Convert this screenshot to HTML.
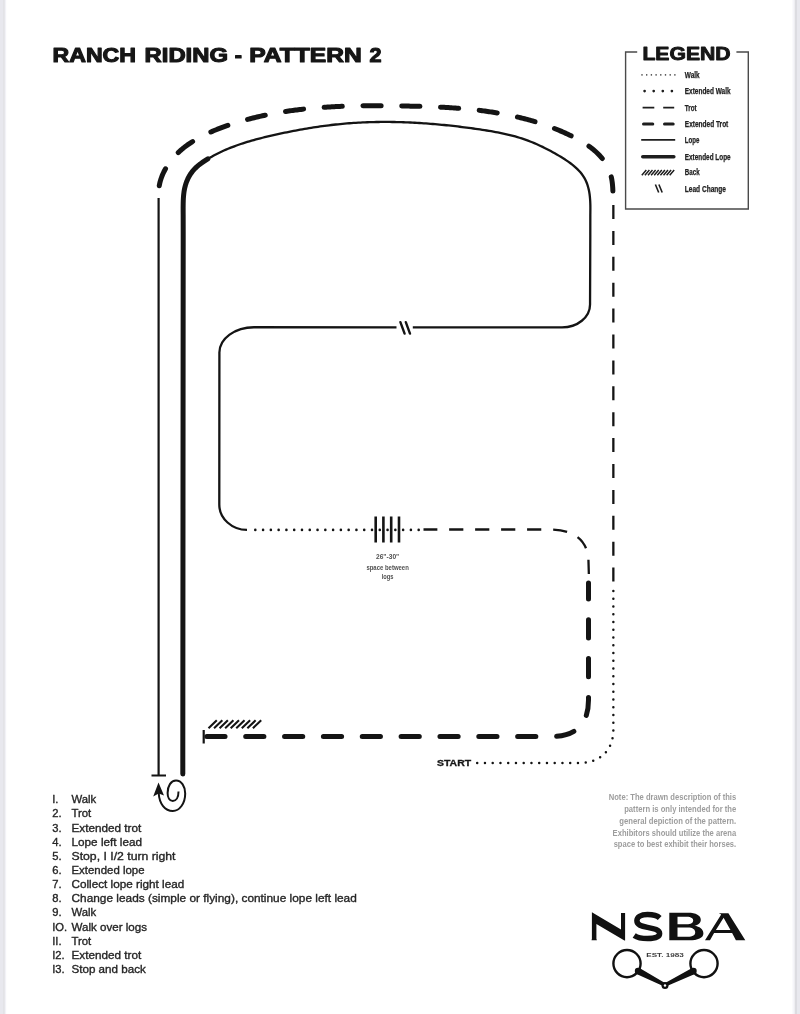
<!DOCTYPE html>
<html><head><meta charset="utf-8">
<style>
html,body{margin:0;padding:0;background:#fff;}
body{width:800px;height:1014px;position:relative;overflow:hidden;font-family:"Liberation Sans",sans-serif;}
</style></head><body>
<svg width="800" height="1014" style="position:absolute;left:0;top:0">
<rect x="0" y="0" width="3.2" height="1014" fill="#e8e8ee"/>
<rect x="3.2" y="0" width="1.6" height="1014" fill="#dcdce1"/>
<rect x="4.8" y="0" width="1.4" height="1014" fill="#f2f2f7"/>
<rect x="792.5" y="0" width="2" height="1014" fill="#f5f5fa"/>
<rect x="794.6" y="0" width="2.4" height="1014" fill="#dcdce1"/>
<rect x="797" y="0" width="3" height="1014" fill="#e8e8ee"/>
</svg>
<svg width="800" height="1014" viewBox="0 0 800 1014" style="position:absolute;left:0;top:0;filter:grayscale(1)">
<g fill="none" stroke="#141414">
<path id="outer" d="M612.88,191.04 L612.82,189.63 L612.75,188.22 L612.66,186.82 L612.55,185.43 L612.42,184.04 L612.26,182.66 L612.07,181.28 L611.86,179.92 L611.62,178.56 L611.34,177.22 L611.03,175.88 L610.69,174.56 L610.31,173.25 L609.89,171.95 L609.42,170.66 L608.92,169.39 L608.37,168.14 L607.78,166.90 L607.14,165.67 L606.45,164.47 L605.73,163.28 L604.96,162.11 L604.16,160.95 L603.32,159.82 L602.45,158.71 L601.55,157.61 L600.62,156.54 L599.66,155.49 L598.67,154.46 L597.67,153.45 L596.64,152.46 L595.59,151.50 L594.52,150.56 L593.43,149.64 L592.33,148.75 L591.21,147.87 L590.08,147.02 L588.93,146.18 L587.77,145.36 L586.60,144.57 L585.41,143.79 L584.21,143.02 L583.00,142.27 L581.78,141.54 L580.56,140.82 L579.32,140.12 L578.08,139.43 L576.83,138.75 L575.57,138.09 L574.31,137.43 L573.05,136.79 L571.78,136.15 L570.51,135.53 L569.23,134.91 L567.96,134.30 L566.68,133.70 L565.40,133.11 L564.11,132.53 L562.83,131.96 L561.54,131.39 L560.25,130.84 L558.95,130.29 L557.66,129.75 L556.36,129.22 L555.06,128.69 L553.76,128.18 L552.45,127.67 L551.14,127.17 L549.83,126.68 L548.52,126.19 L547.21,125.72 L545.89,125.25 L544.57,124.79 L543.25,124.34 L541.93,123.89 L540.61,123.45 L539.28,123.02 L537.95,122.60 L536.62,122.18 L535.29,121.77 L533.96,121.37 L532.62,120.97 L531.29,120.59 L529.95,120.21 L528.60,119.83 L527.26,119.46 L525.92,119.10 L524.57,118.75 L523.22,118.40 L521.87,118.06 L520.52,117.72 L519.17,117.40 L517.81,117.07 L516.45,116.76 L515.10,116.45 L513.74,116.15 L512.37,115.85 L511.01,115.56 L509.65,115.27 L508.28,114.99 L506.91,114.72 L505.54,114.45 L504.17,114.19 L502.80,113.93 L501.43,113.68 L500.06,113.43 L498.68,113.19 L497.30,112.96 L495.92,112.73 L494.54,112.50 L493.16,112.29 L491.78,112.07 L490.40,111.86 L489.01,111.66 L487.63,111.46 L486.24,111.26 L484.85,111.07 L483.46,110.89 L482.07,110.71 L480.68,110.53 L479.29,110.36 L477.90,110.20 L476.50,110.03 L475.11,109.87 L473.71,109.72 L472.32,109.57 L470.92,109.43 L469.52,109.28 L468.12,109.15 L466.72,109.01 L465.32,108.88 L463.92,108.76 L462.52,108.63 L461.11,108.52 L459.71,108.40 L458.31,108.29 L456.90,108.18 L455.49,108.08 L454.09,107.98 L452.68,107.88 L451.27,107.78 L449.87,107.69 L448.46,107.60 L447.05,107.52 L445.64,107.44 L444.23,107.36 L442.82,107.28 L441.41,107.21 L440.00,107.13 L438.58,107.07 L437.17,107.00 L435.76,106.94 L434.35,106.87 L432.94,106.82 L431.52,106.76 L430.11,106.70 L428.70,106.65 L427.28,106.60 L425.87,106.55 L424.46,106.51 L423.04,106.46 L421.63,106.42 L420.21,106.38 L418.80,106.34 L417.39,106.31 L415.97,106.27 L414.56,106.24 L413.14,106.20 L411.73,106.17 L410.32,106.14 L408.90,106.12 L407.49,106.09 L406.07,106.06 L404.66,106.04 L403.25,106.01 L401.84,105.99 L400.42,105.97 L399.01,105.95 L397.60,105.93 L396.19,105.91 L394.78,105.89 L393.37,105.87 L391.95,105.85 L390.54,105.84 L389.13,105.82 L387.72,105.81 L386.32,105.80 L384.91,105.79 L383.50,105.78 L382.09,105.77 L380.68,105.77 L379.27,105.76 L377.87,105.76 L376.46,105.75 L375.05,105.75 L373.64,105.76 L372.24,105.76 L370.83,105.76 L369.43,105.77 L368.02,105.78 L366.62,105.79 L365.21,105.80 L363.81,105.82 L362.40,105.83 L361.00,105.85 L359.60,105.87 L358.20,105.90 L356.79,105.92 L355.39,105.95 L353.99,105.98 L352.59,106.02 L351.19,106.05 L349.79,106.09 L348.39,106.13 L346.99,106.17 L345.59,106.22 L344.19,106.27 L342.79,106.32 L341.39,106.37 L340.00,106.43 L338.60,106.49 L337.20,106.55 L335.80,106.62 L334.41,106.69 L333.01,106.76 L331.62,106.83 L330.22,106.91 L328.83,107.00 L327.43,107.08 L326.04,107.17 L324.65,107.26 L323.26,107.36 L321.86,107.46 L320.47,107.56 L319.08,107.67 L317.69,107.78 L316.30,107.89 L314.91,108.01 L313.52,108.13 L312.13,108.25 L310.74,108.38 L309.35,108.52 L307.97,108.65 L306.58,108.80 L305.19,108.94 L303.81,109.09 L302.42,109.25 L301.03,109.40 L299.65,109.57 L298.26,109.73 L296.88,109.90 L295.50,110.08 L294.11,110.26 L292.73,110.45 L291.35,110.64 L289.97,110.83 L288.59,111.03 L287.21,111.23 L285.83,111.44 L284.45,111.66 L283.07,111.88 L281.69,112.10 L280.31,112.33 L278.94,112.56 L277.56,112.80 L276.18,113.04 L274.81,113.29 L273.43,113.55 L272.06,113.81 L270.68,114.07 L269.31,114.35 L267.94,114.62 L266.56,114.90 L265.19,115.19 L263.82,115.48 L262.45,115.78 L261.08,116.09 L259.71,116.40 L258.34,116.71 L256.97,117.04 L255.60,117.36 L254.24,117.70 L252.87,118.04 L251.50,118.39 L250.14,118.74 L248.77,119.10 L247.41,119.46 L246.04,119.83 L244.68,120.21 L243.32,120.59 L241.95,120.98 L240.59,121.38 L239.23,121.78 L237.87,122.19 L236.51,122.61 L235.15,123.03 L233.79,123.46 L232.43,123.90 L231.08,124.34 L229.72,124.79 L228.36,125.25 L227.01,125.72 L225.65,126.19 L224.30,126.67 L222.95,127.15 L221.60,127.65 L220.26,128.15 L218.91,128.67 L217.58,129.19 L216.24,129.72 L214.91,130.25 L213.59,130.80 L212.26,131.36 L210.95,131.93 L209.64,132.51 L208.34,133.09 L207.04,133.69 L205.75,134.30 L204.47,134.92 L203.20,135.55 L201.94,136.20 L200.68,136.85 L199.43,137.52 L198.20,138.20 L196.97,138.89 L195.75,139.59 L194.55,140.31 L193.35,141.04 L192.17,141.79 L191.00,142.54 L189.84,143.31 L188.69,144.10 L187.56,144.90 L186.44,145.71 L185.34,146.54 L184.25,147.39 L183.17,148.25 L182.11,149.12 L181.07,150.01 L180.04,150.92 L179.03,151.84 L178.03,152.78 L177.05,153.73 L176.09,154.71 L175.15,155.70 L174.22,156.70 L173.32,157.73 L172.43,158.77 L171.56,159.83 L170.72,160.91 L169.89,162.01 L169.09,163.13 L168.30,164.26 L167.54,165.41 L166.80,166.59 L166.08,167.78 L165.39,169.00 L164.72,170.23 L164.07,171.48 L163.46,172.74 L162.87,174.02 L162.32,175.32 L161.80,176.63 L161.31,177.96 L160.86,179.29 L160.45,180.64 L160.07,182.00 L159.74,183.37 L159.45,184.75 L159.20,186.14 L158.99,187.54 L158.82,188.94 L158.69,190.34 L158.59,191.75 L158.52,193.16 L158.48,194.58 L158.46,195.99 L158.46,197.40 L158.48,198.81 L158.52,200.21 L158.57,201.61 L158.62,203.00" stroke-width="5" stroke-linecap="round" stroke-dasharray="18.20 20.62" stroke-dashoffset="3.87"/>
<path d="M205.85,160.14 L207.79,158.94 L209.76,157.78 L211.74,156.65 L213.73,155.55 L215.74,154.49 L217.76,153.47 L219.79,152.47 L221.84,151.50 L223.89,150.57 L225.97,149.66 L228.05,148.78 L230.14,147.93 L232.24,147.10 L234.36,146.30 L236.48,145.52 L238.61,144.76 L240.75,144.03 L242.90,143.32 L245.05,142.63 L247.22,141.96 L249.38,141.31 L251.56,140.68 L253.74,140.06 L255.93,139.46 L258.12,138.87 L260.31,138.30 L262.51,137.74 L264.71,137.20 L266.92,136.67 L269.12,136.14 L271.33,135.63 L273.54,135.13 L275.75,134.63 L277.97,134.14 L280.18,133.66 L282.39,133.18 L284.61,132.72 L286.82,132.26 L289.03,131.81 L291.25,131.37 L293.47,130.94 L295.68,130.51 L297.90,130.10 L300.12,129.69 L302.34,129.29 L304.56,128.90 L306.79,128.52 L309.01,128.15 L311.23,127.79 L313.46,127.44 L315.69,127.10 L317.91,126.77 L320.14,126.45 L322.37,126.14 L324.60,125.84 L326.84,125.55 L329.07,125.27 L331.30,125.00 L333.54,124.75 L335.78,124.50 L338.02,124.27 L340.26,124.05 L342.50,123.83 L344.74,123.63 L346.99,123.45 L349.24,123.27 L351.48,123.11 L353.73,122.95 L355.98,122.81 L358.23,122.68 L360.49,122.56 L362.74,122.45 L365.00,122.35 L367.25,122.26 L369.51,122.19 L371.77,122.12 L374.02,122.07 L376.28,122.02 L378.54,121.99 L380.80,121.96 L383.06,121.95 L385.32,121.94 L387.59,121.95 L389.85,121.96 L392.11,121.99 L394.37,122.02 L396.64,122.06 L398.90,122.12 L401.16,122.18 L403.43,122.25 L405.69,122.33 L407.95,122.42 L410.22,122.52 L412.48,122.63 L414.74,122.75 L417.00,122.87 L419.27,123.00 L421.53,123.15 L423.79,123.30 L426.05,123.45 L428.31,123.62 L430.57,123.80 L432.83,123.98 L435.09,124.17 L437.35,124.37 L439.60,124.57 L441.86,124.79 L444.11,125.01 L446.37,125.24 L448.62,125.47 L450.87,125.71 L453.12,125.96 L455.37,126.22 L457.62,126.48 L459.87,126.75 L462.11,127.03 L464.36,127.31 L466.60,127.60 L468.84,127.90 L471.08,128.20 L473.32,128.51 L475.56,128.83 L477.79,129.15 L480.02,129.48 L482.25,129.81 L484.48,130.15 L486.71,130.50 L488.93,130.86 L491.15,131.23 L493.36,131.61 L495.58,132.01 L497.78,132.42 L499.99,132.85 L502.18,133.30 L504.38,133.77 L506.56,134.26 L508.74,134.78 L510.91,135.32 L513.08,135.88 L515.24,136.48 L517.39,137.10 L519.53,137.75 L521.67,138.43 L523.80,139.14 L525.91,139.89 L528.02,140.66 L530.13,141.47 L532.22,142.30 L534.31,143.17 L536.38,144.06 L538.46,144.98 L540.52,145.93 L542.58,146.91 L544.62,147.91 L546.67,148.94 L548.70,149.99 L550.73,151.07 L552.75,152.18 L554.76,153.31 L556.77,154.46 L558.77,155.63 L560.77,156.83 L562.75,158.06 L564.72,159.31 L566.66,160.59 L568.58,161.90 L570.45,163.25 L572.27,164.64 L574.04,166.07 L575.74,167.56 L577.37,169.09 L578.93,170.67 L580.40,172.31 L581.77,174.01 L583.04,175.77 L584.20,177.60 L585.24,179.50 L586.16,181.47 L586.98,183.49 L587.69,185.57 L588.29,187.70 L588.81,189.86 L589.24,192.06 L589.59,194.28 L589.86,196.53 L590.06,198.78 L590.21,201.05 L590.30,203.32 L590.36,205.59 L590.38,207.87 L590.37,210.15 L590.35,212.42 L590.32,214.69 L590.30,235.00 L590.05,304.5 C590.05,317.3 577.5,327.4 562,327.4 L412.8,327.3" stroke-width="2.3"/>
<path d="M396.5,327.3 L254,327.25 C235,327.25 219.4,338.6 219.4,352.6 L219.3,504.75 C219.3,518.6 232,529.9 247,529.9" stroke-width="2.3"/>
<path d="M182.8,774 L183.20,235.00 L183.17,214.69 L183.15,212.43 L183.14,210.16 L183.14,207.89 L183.16,205.61 L183.19,203.32 L183.25,201.03 L183.35,198.74 L183.50,196.46 L183.71,194.20 L183.99,191.95 L184.36,189.73 L184.82,187.53 L185.39,185.38 L186.05,183.26 L186.81,181.19 L187.68,179.17 L188.65,177.20 L189.72,175.30 L190.91,173.46 L192.20,171.69 L193.60,170.00 L195.11,168.39 L196.72,166.85 L198.42,165.39 L200.19,164.00 L202.03,162.66 L203.92,161.38 L205.85,160.14 L207.79,158.94" stroke-width="5" stroke-linecap="round" stroke-linejoin="round"/>
<path d="M400.4,322.2 L404.6,333.6 M405.8,322.2 L410,333.6" stroke-width="2.4" stroke-linecap="round"/>
<path d="M255.3,529.9 L419,529.9" stroke-width="2.6" stroke-linecap="round" stroke-dasharray="0 7.78"/>
<path d="M375.7,516.5 V542.5 M383.4,516.5 V542.5 M391.2,516.5 V542.5 M399,516.5 V542.5" stroke-width="2.6"/>
<path id="trot1" d="M423.5,529.5 L550,529.5 C575,529.5 588.3,541 588.5,562 L588.9,576" stroke-width="2.3" stroke-dasharray="14.2 11.78" stroke-dashoffset="0.34"/>
<path id="xt2" d="M206,736.5 L552,736.5 C576,736.5 588.5,724 588.5,700 L588.5,582.9" stroke-width="5" stroke-linecap="round" stroke-dasharray="18.2 20.65" stroke-dashoffset="38.0"/>
<path d="M613.35,205 L613.35,582" stroke-width="2.3" stroke-dasharray="14 11.9"/>
<path id="startdots" d="M477.2,763 L580,763 C600,763 613.35,750 613.35,730 L613.35,590" stroke-width="2.5" stroke-linecap="round" stroke-dasharray="0 7.75"/>
<path d="M158.6,198 L158.6,775.5 M151.5,775.5 L166,775.5" stroke-width="2.2"/>
<path d="M203.7,730 L203.7,743.5" stroke-width="2.2"/>
<path d="M208.50,728.2 L216.80,720.3 M214.05,728.2 L222.35,720.3 M219.60,728.2 L227.90,720.3 M225.15,728.2 L233.45,720.3 M230.70,728.2 L239.00,720.3 M236.25,728.2 L244.55,720.3 M241.80,728.2 L250.10,720.3 M247.35,728.2 L255.65,720.3 M252.90,728.2 L261.20,720.3" stroke-width="2.1"/>
<path d="M178.5,791.5 C178.5,797.5 176,801 172.8,801 C169.6,801 167.6,797.6 167.6,793 C167.6,786 171,780.6 176,780.6 C181.5,780.6 185.2,786.5 185.2,793.5 C185.2,803.5 179.5,811 172.8,811 C165,811 159.3,804 158.7,793" stroke-width="2"/>
</g>
<path d="M158.5,782.5 L153.2,796.5 L158.7,793.5 L164,795.5 Z" fill="#141414"/>
<path d="M637.2,52 L625.6,52 L625.6,209 L748.3,209 L748.3,52 L736.4,52" fill="none" stroke="#4a4a4a" stroke-width="1.4"/>
<text x="642.4" y="59.7" font-family="Liberation Sans" font-weight="bold" font-size="18" textLength="88.2" lengthAdjust="spacingAndGlyphs" fill="#161616" stroke="#161616" stroke-width="0.9" stroke-linejoin="round">LEGEND</text>
<g fill="none" stroke="#1e1e1e">
<path d="M642,74.9 L675.5,74.9" stroke-width="1.6" stroke-linecap="round" stroke-dasharray="0 4.7" stroke="#4a4a4a"/>
<path d="M644.6,91.1 L672.5,91.1" stroke-width="2.7" stroke-linecap="round" stroke-dasharray="0 9.1"/>
<path d="M642.6,107.6 L654.3,107.6 M663.2,107.6 L674.2,107.6" stroke-width="1.6"/>
<path d="M643.5,123.9 L652.8,123.9 M664.5,123.9 L673.2,123.9" stroke-width="3" stroke-linecap="round"/>
<path d="M641.2,139.9 L675.2,139.9" stroke-width="1.6"/>
<path d="M642.8,156.8 L673.8,156.8" stroke-width="3.6" stroke-linecap="round"/>
<path d="M641.80,175.2 L646.30,170.1 M644.90,175.2 L649.40,170.1 M648.00,175.2 L652.50,170.1 M651.10,175.2 L655.60,170.1 M654.20,175.2 L658.70,170.1 M657.30,175.2 L661.80,170.1 M660.40,175.2 L664.90,170.1 M663.50,175.2 L668.00,170.1 M666.60,175.2 L671.10,170.1 M669.70,175.2 L674.20,170.1" stroke-width="1.5"/>
<path d="M655.4,184.5 L658.7,192.5 M658.9,184.5 L662.2,192.5" stroke-width="1.6"/>
</g>
<text x="684.8" y="78.1" font-family="Liberation Sans" font-weight="bold" font-size="8.3" textLength="14.8" lengthAdjust="spacingAndGlyphs" fill="#222" stroke="#222" stroke-width="0.25">Walk</text>
<text x="684.8" y="94.2" font-family="Liberation Sans" font-weight="bold" font-size="8.3" textLength="45.8" lengthAdjust="spacingAndGlyphs" fill="#222" stroke="#222" stroke-width="0.25">Extended Walk</text>
<text x="684.8" y="110.7" font-family="Liberation Sans" font-weight="bold" font-size="8.3" textLength="11.8" lengthAdjust="spacingAndGlyphs" fill="#222" stroke="#222" stroke-width="0.25">Trot</text>
<text x="684.8" y="126.5" font-family="Liberation Sans" font-weight="bold" font-size="8.3" textLength="43.5" lengthAdjust="spacingAndGlyphs" fill="#222" stroke="#222" stroke-width="0.25">Extended Trot</text>
<text x="684.8" y="142.7" font-family="Liberation Sans" font-weight="bold" font-size="8.3" textLength="14.6" lengthAdjust="spacingAndGlyphs" fill="#222" stroke="#222" stroke-width="0.25">Lope</text>
<text x="684.8" y="159.6" font-family="Liberation Sans" font-weight="bold" font-size="8.3" textLength="45.8" lengthAdjust="spacingAndGlyphs" fill="#222" stroke="#222" stroke-width="0.25">Extended Lope</text>
<text x="684.8" y="175.4" font-family="Liberation Sans" font-weight="bold" font-size="8.3" textLength="14.8" lengthAdjust="spacingAndGlyphs" fill="#222" stroke="#222" stroke-width="0.25">Back</text>
<text x="684.8" y="191.9" font-family="Liberation Sans" font-weight="bold" font-size="8.3" textLength="41.2" lengthAdjust="spacingAndGlyphs" fill="#222" stroke="#222" stroke-width="0.25">Lead Change</text>
<g font-family="Liberation Sans" font-weight="bold" font-size="20" fill="#161616" stroke="#161616" stroke-width="1.1" stroke-linejoin="round">
<text x="52.50" y="61.5" textLength="83.50" lengthAdjust="spacingAndGlyphs">RANCH</text>
<text x="144.60" y="61.5" textLength="83.30" lengthAdjust="spacingAndGlyphs">RIDING</text>
<text x="234.70" y="61.5" textLength="7.20" lengthAdjust="spacingAndGlyphs">-</text>
<text x="249.20" y="61.5" textLength="112.60" lengthAdjust="spacingAndGlyphs">PATTERN</text>
<text x="369.60" y="61.5" textLength="12.00" lengthAdjust="spacingAndGlyphs">2</text>
</g>
<g font-family="Liberation Sans" font-weight="bold" font-size="7.2" fill="#505050" text-anchor="middle">
<text x="387.6" y="559.4" textLength="23.2" lengthAdjust="spacingAndGlyphs">26&quot;-30&quot;</text>
<text x="387.6" y="569.5" textLength="42.4" lengthAdjust="spacingAndGlyphs">space between</text>
<text x="387.6" y="578.7" textLength="11.8" lengthAdjust="spacingAndGlyphs">logs</text>
</g>
<text x="437" y="766.2" font-family="Liberation Sans" font-weight="bold" font-size="8.9" textLength="34.1" lengthAdjust="spacingAndGlyphs" fill="#161616" stroke="#161616" stroke-width="0.3">START</text>
<g font-family="Liberation Sans" font-size="11.2" fill="#262626" stroke="#262626" stroke-width="0.35">
<text x="52.2" y="803.20">I.</text>
<text x="71.5" y="803.20" textLength="24.75" lengthAdjust="spacingAndGlyphs">Walk</text>
<text x="52.2" y="817.35">2.</text>
<text x="71.5" y="817.35" textLength="19.75" lengthAdjust="spacingAndGlyphs">Trot</text>
<text x="52.2" y="831.50">3.</text>
<text x="71.5" y="831.50" textLength="69.75" lengthAdjust="spacingAndGlyphs">Extended trot</text>
<text x="52.2" y="845.65">4.</text>
<text x="71.5" y="845.65" textLength="70.50" lengthAdjust="spacingAndGlyphs">Lope left lead</text>
<text x="52.2" y="859.80">5.</text>
<text x="71.5" y="859.80" textLength="104.00" lengthAdjust="spacingAndGlyphs">Stop, I I/2 turn right</text>
<text x="52.2" y="873.95">6.</text>
<text x="71.5" y="873.95" textLength="73.00" lengthAdjust="spacingAndGlyphs">Extended lope</text>
<text x="52.2" y="888.10">7.</text>
<text x="71.5" y="888.10" textLength="112.75" lengthAdjust="spacingAndGlyphs">Collect lope right lead</text>
<text x="52.2" y="902.25">8.</text>
<text x="71.5" y="902.25" textLength="285.30" lengthAdjust="spacingAndGlyphs">Change leads (simple or flying), continue lope left lead</text>
<text x="52.2" y="916.40">9.</text>
<text x="71.5" y="916.40" textLength="24.75" lengthAdjust="spacingAndGlyphs">Walk</text>
<text x="52.2" y="930.55">IO.</text>
<text x="71.5" y="930.55" textLength="75.50" lengthAdjust="spacingAndGlyphs">Walk over logs</text>
<text x="52.2" y="944.70">II.</text>
<text x="71.5" y="944.70" textLength="19.75" lengthAdjust="spacingAndGlyphs">Trot</text>
<text x="52.2" y="958.85">I2.</text>
<text x="71.5" y="958.85" textLength="69.75" lengthAdjust="spacingAndGlyphs">Extended trot</text>
<text x="52.2" y="973.00">I3.</text>
<text x="71.5" y="973.00" textLength="74.25" lengthAdjust="spacingAndGlyphs">Stop and back</text>
</g>
<g font-family="Liberation Sans" font-weight="bold" font-size="8.4" fill="#9d9d9d">
<text x="608.75" y="800.25" textLength="127.45" lengthAdjust="spacingAndGlyphs">Note: The drawn description of this</text>
<text x="624.20" y="812.00" textLength="112.00" lengthAdjust="spacingAndGlyphs">pattern is only intended for the</text>
<text x="619.25" y="823.90" textLength="116.95" lengthAdjust="spacingAndGlyphs">general depiction of the pattern.</text>
<text x="612.60" y="835.60" textLength="123.60" lengthAdjust="spacingAndGlyphs">Exhibitors should utilize the arena</text>
<text x="613.65" y="846.60" textLength="122.55" lengthAdjust="spacingAndGlyphs">space to best exhibit their horses.</text>
</g>
<path d="M591.9,912.2 L621.0,929.6 L621.0,913.1 L625.1,913.1 L625.1,940.6 L624.4,940.6 L596.4,923.9 L596.4,938.8 L596.9,940.3 L591.5,940.3 L591.9,938.8 Z" fill="#111"/>
<path d="M659.7,917.9 C657,915.3 652.5,914.5 647.5,914.5 C640.5,914.5 636.9,917 636.9,920.8 C636.9,925 641.5,926.3 647.5,927.4 C654.5,928.7 659.6,930 659.6,933.6 C659.6,937 655,938.6 647.5,938.6 C641,938.6 637,937.4 634.2,935.5" fill="none" stroke="#111" stroke-width="5.5"/>
<path fill-rule="evenodd" d="M669.3,912.8 L688,912.8 C696,912.8 700.8,915.5 700.8,919.8 C700.8,923 698,925.2 694.5,925.8 C699.5,926.5 703.4,929.2 703.4,933.2 C703.4,938 698,940.3 689,940.3 L669.3,940.3 Z M677.5,916.7 L686.5,916.7 C691.5,916.7 693.2,918.5 693.2,920.5 C693.2,922.8 691,924.3 686.5,924.3 L677.5,924.3 Z M677.5,927.4 L687.5,927.4 C693,927.4 695.2,929.5 695.2,932.2 C695.2,935 693,936.7 687.5,936.7 L677.5,936.7 Z" fill="#111"/>
<path fill-rule="evenodd" d="M718.8,913.2 L728.4,913.2 L745.3,940.2 L735.9,940.2 L732.1,932.9 L714.1,932.9 L710,940.2 L705,940.2 L721.2,914.4 Z M723.6,917.8 L730.5,930 L715.9,930 Z" fill="#111"/>
<text x="646.25" y="956.9" font-family="Liberation Sans" font-weight="bold" font-size="6.2" textLength="37.5" lengthAdjust="spacingAndGlyphs" fill="#3a3a3a">EST. 1983</text>
<g fill="none" stroke="#111" stroke-width="2.4"><circle cx="627" cy="963.6" r="13.6"/><circle cx="704" cy="963.6" r="13.6"/></g>
<path d="M636.5,974 L639.5,968 L665.8,983.5 L664.2,986.5 Z M694.9,974 L692.1,968 L664.2,983.5 L665.8,986.5 Z" fill="#111"/>
<circle cx="638" cy="971" r="3.2" fill="#111"/><circle cx="693.5" cy="971" r="3.2" fill="#111"/>
<circle cx="665" cy="985.5" r="3.5" fill="#111"/><circle cx="665" cy="985.5" r="1.2" fill="#fff"/>
</svg>
</body></html>
